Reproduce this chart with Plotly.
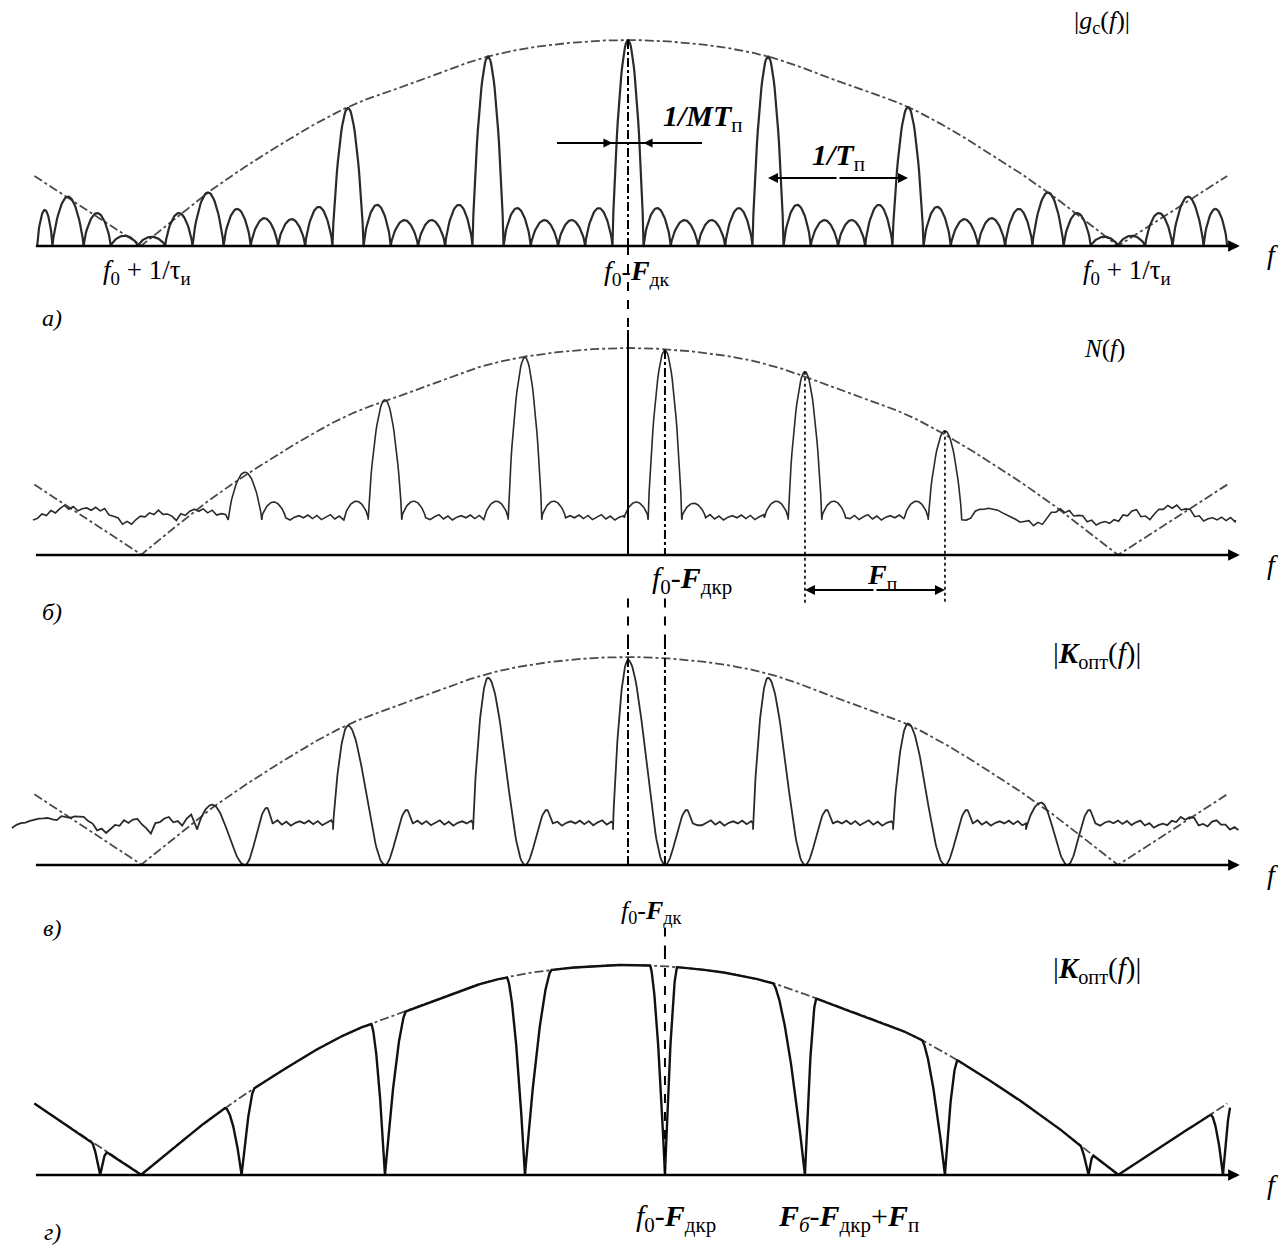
import numpy as np
import plotly.graph_objects as go

# ------------------------------------------------------------------ data
# frequency in units of F_п (pulse repetition frequency), 0 at f0-F_дк
# heights relative to the spectral envelope maximum
AXIS_U = [-4.24, 4.37]

ENV_LEFT_U = [-4.24, -3.48]
ENV_LEFT_H = [0.34, 0.0]
ENV_MAIN_U = [-3.48, -2.98, -2.56, -2.0, -1.54, -1.0, -0.35, 0.0, 0.35, 1.0, 1.54, 2.0, 2.56, 2.98, 3.50]
ENV_MAIN_H = [0.0, 0.27, 0.46, 0.675, 0.79, 0.92, 0.99, 1.0, 0.99, 0.92, 0.79, 0.675, 0.46, 0.27, 0.0]
ENV_RIGHT_U = [3.50, 4.28]
ENV_RIGHT_H = [0.0, 0.34]

# a) |g_c(f)|
A_PEAK_U = [-4, -3, -2, -1, 0, 1, 2, 3, 4]
A_PEAK_H = [0.24, 0.26, 0.67, 0.92, 1.00, 0.92, 0.675, 0.26, 0.24]
A_GAP_SIDELOBES = [
    [0.16, 0.05, 0.045, 0.16],
    [0.18, 0.135, 0.13, 0.19],
    [0.20, 0.126, 0.126, 0.20],
    [0.184, 0.126, 0.126, 0.184],
    [0.184, 0.126, 0.126, 0.184],
    [0.20, 0.126, 0.126, 0.20],
    [0.19, 0.13, 0.135, 0.18],
    [0.16, 0.045, 0.05, 0.16],
]
A_EDGE_SIDELOBES = [0.175, 0.18]
A_SPAN = [-4.22, 4.28]

# б) N(f)
B_PEAK_U = [-2.736, -1.736, -0.736, 0.264, 1.264, 2.264]
B_PEAK_H = [0.40, 0.75, 0.955, 0.99, 0.885, 0.60]
B_BUMP_LEFT = [0.0, 0.26, 0.26, 0.256, 0.26, 0.26]
B_BUMP_RIGHT = [0.256, 0.26, 0.26, 0.25, 0.26, 0.0]
B_FLOOR = 0.18
B_NOISE_LEFT_U = [-4.25, -3.99, -3.86, -3.72, -3.63, -3.45, -3.31, -3.24, -3.19, -3.01, -2.88, -2.856]
B_NOISE_LEFT_H = [0.169, 0.227, 0.217, 0.208, 0.159, 0.184, 0.203, 0.169, 0.193, 0.208, 0.184, 0.17]
B_NOISE_RIGHT_U = [2.384, 2.62, 2.74, 2.95, 3.04, 3.16, 3.27, 3.48, 3.61, 3.71, 3.81, 3.95, 4.07, 4.34]
B_NOISE_RIGHT_H = [0.17, 0.217, 0.184, 0.155, 0.203, 0.203, 0.169, 0.159, 0.208, 0.179, 0.217, 0.227, 0.184, 0.169]

# в) |K_опт(f)|
C_PEAK_U = [-2.97, -2.0, -1.0, 0.0, 1.0, 2.0, 2.95]
C_PEAK_H = [0.29, 0.67, 0.90, 0.985, 0.90, 0.68, 0.30]
C_NOTCH_U = [-2.736, -1.736, -0.736, 0.264, 1.264, 2.264, 3.14]
C_BUMP_H = [0.275, 0.265, 0.265, 0.265, 0.265, 0.265, 0.265]
C_FLOOR = 0.20
C_NOISE_LEFT_U = [-4.40, -4.13, -4.01, -3.88, -3.81, -3.69, -3.60, -3.49, -3.41, -3.36, -3.28, -3.19, -3.10, -3.077]
C_NOISE_LEFT_H = [0.178, 0.23, 0.216, 0.226, 0.178, 0.168, 0.207, 0.207, 0.154, 0.207, 0.216, 0.20, 0.216, 0.17]
C_NOISE_RIGHT_U = [3.34, 3.63, 3.84, 4.01, 4.10, 4.19, 4.28, 4.36]
C_NOISE_RIGHT_H = [0.20, 0.20, 0.19, 0.225, 0.19, 0.207, 0.178, 0.168]

# г) |K_опт(f)|
D_NOTCH_U = [-3.77, -2.76, -1.736, -0.736, 0.264, 1.264, 2.264, 3.29, 4.25]
D_NOTCH_WL = [0.06, 0.12, 0.10, 0.13, 0.107, 0.23, 0.165, 0.06, 0.09]
D_NOTCH_WR = [0.05, 0.09, 0.15, 0.19, 0.086, 0.08, 0.09, 0.035, 0.06]
D_SPAN = [-4.24, 4.30]

# small hand-drawn ripple texture for the noise floors
RIPPLE = [0.0, 0.013, -0.004, 0.011, -0.009, 0.005, 0.015, -0.006, 0.008, -0.011, 0.003, 0.01]

# ------------------------------------------------------------------ layout constants
W, H = 1285, 1246
CENTER_PX, UNIT_PX = 628, 140
PANEL_PX = [(0, 330), (330, 640), (640, 950), (950, 1246)]
BASE_PX = [246, 555, 865, 1175]
SCALE_PX = [206, 207, 208, 210]
RIPPLE_STEP = 0.032
SIG = "#2a2a2a"
ENVC = "#4a4a4a"
FONT = "Liberation Serif"


def smooth(us, hs, step=0.004):
    us = np.asarray(us, float)
    hs = np.asarray(hs, float)
    m = np.gradient(hs, us)
    x = np.append(np.arange(us[0], us[-1], step), us[-1])
    i = np.clip(np.searchsorted(us, x, side="right") - 1, 0, len(us) - 2)
    dx = us[i + 1] - us[i]
    t = (x - us[i]) / dx
    y = ((2 * t**3 - 3 * t**2 + 1) * hs[i] + (t**3 - 2 * t**2 + t) * dx * m[i]
         + (-2 * t**3 + 3 * t**2) * hs[i + 1] + (t**3 - t**2) * dx * m[i + 1])
    return x, y


def rippled(x, y):
    idx = np.round(x / RIPPLE_STEP).astype(int) % len(RIPPLE)
    r = np.array(RIPPLE)[idx]
    r[0] = 0
    r[-1] = 0
    return x, y + r


def noise(us, hs):
    x, y = smooth(us, hs, step=RIPPLE_STEP / 2)
    x2 = np.append(np.arange(x[0], x[-1], RIPPLE_STEP), x[-1])
    return rippled(x2, np.interp(x2, x, y))


def floor_seg(a, b, level):
    if b <= a:
        return np.array([]), np.array([])
    x = np.append(np.arange(a, b, RIPPLE_STEP), b)
    return rippled(x, np.full_like(x, level))


def arch(s, e, h, base=0.0, power=0.7, n=36):
    t = np.linspace(0, 1, n)
    return s + (e - s) * t, base + (h - base) * np.sin(np.pi * t) ** power


def join(segs):
    xs = np.concatenate([s[0] for s in segs if len(s[0])])
    ys = np.concatenate([s[1] for s in segs if len(s[0])])
    return xs, ys


# ---------------- envelope
lx = np.linspace(ENV_LEFT_U[0], ENV_LEFT_U[1], 20)
lh = np.interp(lx, ENV_LEFT_U, ENV_LEFT_H)
mx, mh = smooth(ENV_MAIN_U, ENV_MAIN_H)
rx = np.linspace(ENV_RIGHT_U[0], ENV_RIGHT_U[1], 20)
rh = np.interp(rx, ENV_RIGHT_U, ENV_RIGHT_H)
env_x = np.concatenate([lx, mx[1:], rx[1:]])
env_h = np.concatenate([lh, np.maximum(mh[1:], 0), rh[1:]])

# ---------------- a)
hw = 0.111
segs = [arch(A_SPAN[0], A_PEAK_U[0] - hw, A_EDGE_SIDELOBES[0])]
for i, k in enumerate(A_PEAK_U):
    segs.append(arch(k - hw, k + hw, A_PEAK_H[i], power=0.75))
    if i < len(A_PEAK_U) - 1:
        w = (A_PEAK_U[i + 1] - k - 2 * hw) / 4
        for j, h in enumerate(A_GAP_SIDELOBES[i]):
            s = k + hw + j * w
            segs.append(arch(s, s + w, h))
segs.append(arch(A_PEAK_U[-1] + hw, A_SPAN[1], A_EDGE_SIDELOBES[1]))
ax_, ay_ = join(segs)

# ---------------- б)
LH, BW = 0.12, 0.17
segs = [noise(B_NOISE_LEFT_U, B_NOISE_LEFT_H)]
for i, p in enumerate(B_PEAK_U):
    if B_BUMP_LEFT[i] > 0:
        segs.append(arch(p - LH - BW, p - LH, B_BUMP_LEFT[i], base=B_FLOOR))
    segs.append(arch(p - LH, p + LH, B_PEAK_H[i], base=0.17, power=0.75))
    if B_BUMP_RIGHT[i] > 0:
        segs.append(arch(p + LH, p + LH + BW, B_BUMP_RIGHT[i], base=B_FLOOR))
    if i < len(B_PEAK_U) - 1:
        a = p + LH + (BW if B_BUMP_RIGHT[i] > 0 else 0)
        nx = B_PEAK_U[i + 1]
        b = nx - LH - (BW if B_BUMP_LEFT[i + 1] > 0 else 0)
        segs.append(floor_seg(a, b, B_FLOOR))
segs.append(noise(B_NOISE_RIGHT_U, B_NOISE_RIGHT_H))
bx_, by_ = join(segs)

# ---------------- в)
RISE, BUMP_AT, BUMP_END = 0.107, 0.157, 0.2
segs = [noise(C_NOISE_LEFT_U, C_NOISE_LEFT_H)]
t = np.linspace(0, 1, 40)
for i, p in enumerate(C_PEAK_U):
    n_ = C_NOTCH_U[i]
    H_ = C_PEAK_H[i]
    segs.append((p - RISE + RISE * t, 0.17 + (H_ - 0.17) * np.sin(np.pi / 2 * t) ** 0.8))
    segs.append((p + (n_ - p) * t, H_ * np.cos(np.pi / 2 * t) ** 2))
    segs.append((n_ + BUMP_AT * t, C_BUMP_H[i] * np.sin(np.pi / 2 * t) ** 2))
    segs.append((n_ + BUMP_AT + (BUMP_END - BUMP_AT) * t,
                 C_FLOOR + (C_BUMP_H[i] - C_FLOOR) * np.cos(np.pi / 2 * t) ** 2))
    if i < len(C_PEAK_U) - 1:
        segs.append(floor_seg(n_ + BUMP_END, C_PEAK_U[i + 1] - RISE, C_FLOOR))
segs.append(noise(C_NOISE_RIGHT_U, C_NOISE_RIGHT_H))
cx_, cy_ = join(segs)

# ---------------- г)
dx_ = np.union1d(np.linspace(D_SPAN[0], D_SPAN[1], 4000), D_NOTCH_U)
dy_ = np.interp(dx_, env_x, env_h, right=env_h[-1])
for n_, wl, wr in zip(D_NOTCH_U, D_NOTCH_WL, D_NOTCH_WR):
    left = (dx_ <= n_) & (dx_ > n_ - wl)
    right = (dx_ > n_) & (dx_ < n_ + wr)
    tl = (n_ - dx_[left]) / wl
    tr = (dx_[right] - n_) / wr
    dy_[left] *= 1 - (1 - tl) ** 1.6
    dy_[right] *= 1 - (1 - tr) ** 1.6

# ------------------------------------------------------------------ figure
fig = go.Figure()
YA = ["y", "y2", "y3", "y4"]


def line(x, y, k, color=SIG, width=2.0, dash="solid"):
    fig.add_trace(go.Scatter(x=x, y=y, mode="lines", yaxis=YA[k], xaxis="x",
                             line=dict(color=color, width=width, dash=dash),
                             hoverinfo="skip", showlegend=False))


for k in range(4):
    line(env_x, env_h, k, color=ENVC, width=1.8, dash="dashdot")

line(ax_, ay_, 0, width=2.2)
line(bx_, by_, 1, width=1.6)
line(cx_, cy_, 2, width=1.8)
line(dx_, dy_, 3, color="#111111", width=2.4)

ranges = []
for k in range(4):
    top, bot = PANEL_PX[k]
    ranges.append(((BASE_PX[k] - bot) / SCALE_PX[k], (BASE_PX[k] - top) / SCALE_PX[k]))

# vertical reference lines
c0 = A_PEAK_U[4]
line([c0, c0], [A_PEAK_H[4], 0], 0, color="black", width=2, dash="dashdot")
line([c0, c0], [0, ranges[0][0]], 0, color="black", width=2, dash="dash")
line([c0, c0], [ranges[1][1], 0], 1, color="black", width=2)
line([c0, c0], [-0.21, ranges[1][0]], 1, color="black", width=2, dash="dash")
line([B_PEAK_U[3]] * 2, [B_PEAK_H[3], 0], 1, color="black", width=2, dash="dashdot")
line([B_PEAK_U[3]] * 2, [-0.21, ranges[1][0]], 1, color="black", width=2, dash="dash")
line([C_PEAK_U[3]] * 2, [ranges[2][1], 0], 2, color="black", width=2, dash="dashdot")
line([C_NOTCH_U[3]] * 2, [ranges[2][1], 0], 2, color="black", width=2, dash="dashdot")
line([C_NOTCH_U[3]] * 2, [-0.30, ranges[2][0]], 2, color="black", width=2, dash="dash")
line([D_NOTCH_U[4]] * 2, [ranges[3][1], 0], 3, color="black", width=2, dash="dash")
# dotted guides for F_п
line([B_PEAK_U[4]] * 2, [B_PEAK_H[4], -0.24], 1, color="black", width=1.6, dash="dot")
line([B_PEAK_U[5]] * 2, [B_PEAK_H[5], -0.24], 1, color="black", width=1.6, dash="dot")
# 1/MT_п measurement line
line([-0.507, 0.529], [0.5, 0.5], 0, color="black", width=2)

ann = []


def arrow(x0, y0, x1, y1, k, width=2.0, head=2, size=1.0):
    ann.append(dict(x=x1, y=y1, ax=x0, ay=y0, xref="x", yref=YA[k], axref="x", ayref=YA[k],
                    showarrow=True, arrowhead=head, arrowsize=size, arrowwidth=width,
                    arrowcolor="black", text=""))


for k in range(4):
    arrow(AXIS_U[0], 0, AXIS_U[1], 0, k, width=2.6, head=2, size=0.9)

arrow(-0.507, 0.5, c0 - hw, 0.5, 0, width=1.5, head=2, size=1.2)
arrow(0.529, 0.5, c0 + hw, 0.5, 0, width=1.5, head=2, size=1.2)
mid = (A_PEAK_U[5] + A_PEAK_U[6]) / 2
arrow(mid, 0.33, A_PEAK_U[5], 0.33, 0, width=2, head=2, size=1.0)
arrow(mid, 0.33, A_PEAK_U[6], 0.33, 0, width=2, head=2, size=1.0)
mid = (B_PEAK_U[4] + B_PEAK_U[5]) / 2
arrow(mid, -0.169, B_PEAK_U[4], -0.169, 1, width=2, head=2, size=1.0)
arrow(mid, -0.169, B_PEAK_U[5], -0.169, 1, width=2, head=2, size=1.0)


def label(px, py, text, size=22):
    ann.append(dict(x=px / W, y=1 - py / H, xref="paper", yref="paper", text=text,
                    showarrow=False, xanchor="center", yanchor="middle",
                    font=dict(family=FONT, size=size, color="black")))


F0 = "<i>f</i><sub>0</sub>"
BF = "<b><i>F</i></b>"
label(1102, 22, "|<i>g</i><sub>c</sub>(<i>f</i>)|", 26)
label(147, 272, F0 + " + 1/τ<sub>и</sub>", 27)
label(1127, 272, F0 + " + 1/τ<sub>и</sub>", 27)
label(637, 272, F0 + "-" + BF + "<sub>дк</sub>", 28)
label(52, 318, "<i>а)</i>", 24)
label(703, 118, "<b><i>1/MT</i></b><sub>п</sub>", 30)
label(838, 157, "<b><i>1/T</i></b><sub>п</sub>", 30)
label(1104, 349, "<i>N</i>(<i>f</i>)", 25)
label(692, 580, F0 + "-" + BF + "<sub>дкр</sub>", 30)
label(882, 576, BF + "<sub>п</sub>", 28)
label(52, 612, "<i>б)</i>", 24)
label(1097, 655, "|" + "<b><i>K</i></b><sub>опт</sub>(<i>f</i>)|", 29)
label(651, 912, F0 + "-" + BF + "<sub>дк</sub>", 26)
label(52, 928, "<i>в)</i>", 24)
label(1097, 970, "|" + "<b><i>K</i></b><sub>опт</sub>(<i>f</i>)|", 29)
label(676, 1218, F0 + "-" + BF + "<sub>дкр</sub>", 30)
label(848, 1218, BF + "<sub><i>б</i></sub>-" + BF + "<sub>дкр</sub>+" + BF + "<sub>п</sub>", 30)
label(52, 1232, "<i>г)</i>", 24)
for b in BASE_PX:
    label(1272, b + 9, "<i>f</i>", 28)

layout = dict(
    width=W, height=H, margin=dict(l=0, r=0, t=0, b=0),
    paper_bgcolor="white", plot_bgcolor="white", showlegend=False,
    xaxis=dict(range=[(0 - CENTER_PX) / UNIT_PX, (W - CENTER_PX) / UNIT_PX], visible=False,
               domain=[0, 1], fixedrange=True),
    annotations=ann,
)
for k in range(4):
    top, bot = PANEL_PX[k]
    key = "yaxis" if k == 0 else f"yaxis{k + 1}"
    layout[key] = dict(domain=[1 - bot / H, 1 - top / H], range=list(ranges[k]),
                       visible=False, anchor="x", fixedrange=True)
fig.update_layout(**layout)

fig.write_html("out.html", config={"displayModeBar": False},
               post_script="document.body.style.margin='0px';")
